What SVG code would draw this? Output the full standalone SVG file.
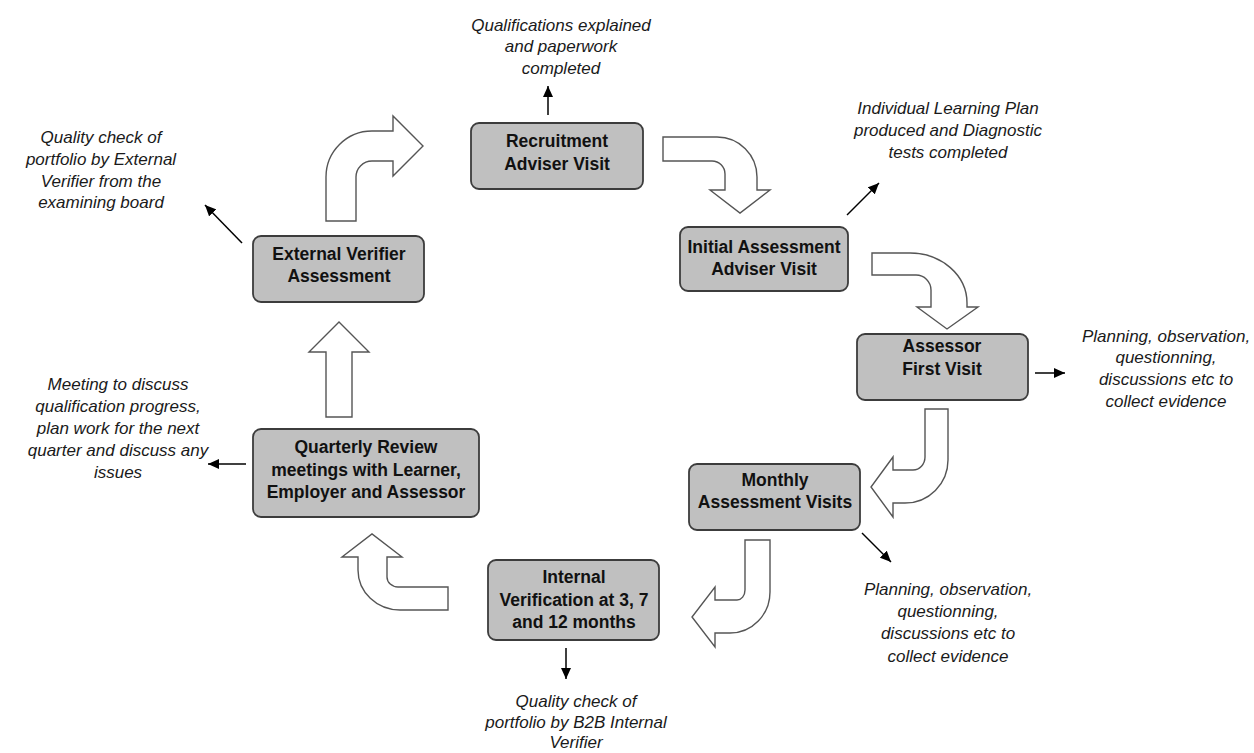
<svg xmlns="http://www.w3.org/2000/svg" width="1254" height="753" viewBox="0 0 1254 753">
<style>
.box{fill:#c0c0c0;stroke:#3c3c3c;stroke-width:1.8}
.bt{font-family:"Liberation Sans",Arial,sans-serif;font-weight:bold;font-size:17.5px;fill:#111;text-anchor:middle}
.it{font-family:"Liberation Sans",Arial,sans-serif;font-style:italic;font-size:17px;fill:#1a1a1a;text-anchor:middle}
.blk{fill:#fff;stroke:#555;stroke-width:1.4;stroke-linejoin:miter}
.ln{stroke:#000;stroke-width:1.5;fill:none;marker-end:url(#ah)}
</style>
<defs>
<marker id="ah" markerWidth="12" markerHeight="10" refX="11" refY="5" orient="auto" markerUnits="userSpaceOnUse"><path d="M0,0 L11,5 L0,10 Z" fill="#000"/></marker>
</defs>
<rect width="1254" height="753" fill="#fff"/>

<g id="connectors">
<path class="blk" d="M326,221 L326,177 A46,46 0 0 1 372,131 L393,131 L393,116 L423,146 L393,176 L393,161 L372,161 A16,16 0 0 0 356,177 L356,221 Z"/>
<path class="blk" d="M663,137 L717,137 A40,40 0 0 1 757,177 L757,190 L770,190 L740,213 L710,190 L725,190 L725,174 A13,13 0 0 0 712,161 L663,161 Z"/>
<path class="blk" d="M872,253 L910,253 A57,50 0 0 1 967,303 L967,307 L978,307 L947,329 L917,307 L931,307 L931,290 A15,15 0 0 0 916,275 L872,275 Z"/>
<path class="blk" d="M925,409 L948,409 L948,460 A43,43 0 0 1 905,503 L893,503 L893,517 L871,487 L893,457 L893,470 L913,470 A12,13 0 0 0 925,457 Z"/>
<path class="blk" d="M745,540 L770,540 L770,592 A40,41 0 0 1 730,633 L715,633 L715,647 L692,617 L715,587 L715,600 L737,600 A8,10 0 0 0 745,590 Z"/>
<path class="blk" d="M448,587 L398,587 A11,10 0 0 1 387,577 L387,557 L402,557 L372,534 L342,557 L358,557 L358,570 A42,40 0 0 0 400,610 L448,610 Z"/>
<path class="blk" d="M326,417 L326,352 L309,352 L339,322 L369,352 L352,352 L352,417 Z"/>
<line class="ln" x1="548" y1="115" x2="548" y2="86"/>
<line class="ln" x1="847" y1="215" x2="879" y2="183"/>
<line class="ln" x1="1035" y1="373" x2="1065" y2="373"/>
<line class="ln" x1="862" y1="533" x2="891" y2="562"/>
<line class="ln" x1="566" y1="648" x2="566" y2="679"/>
<line class="ln" x1="242" y1="243" x2="205" y2="205"/>
<line class="ln" x1="246" y1="464" x2="208" y2="464"/>
</g>

<g id="n-recruitment">
<rect class="box" x="471" y="123" width="172" height="66" rx="8"/>
<text class="bt" x="557" y="147">Recruitment</text>
<text class="bt" x="557" y="170">Adviser Visit</text>
</g>
<g id="n-initial">
<rect class="box" x="680" y="227" width="168" height="64" rx="8"/>
<text class="bt" x="764" y="253">Initial Assessment</text>
<text class="bt" x="764" y="275">Adviser Visit</text>
</g>
<g id="n-assessor">
<rect class="box" x="857" y="334" width="171" height="66" rx="8"/>
<text class="bt" x="942" y="352">Assessor</text>
<text class="bt" x="942" y="375">First Visit</text>
</g>
<g id="n-monthly">
<rect class="box" x="689" y="464" width="171" height="66" rx="8"/>
<text class="bt" x="775" y="486">Monthly</text>
<text class="bt" x="775" y="508">Assessment Visits</text>
</g>
<g id="n-internal">
<rect class="box" x="488" y="560" width="171" height="80" rx="8"/>
<text class="bt" x="574" y="583">Internal</text>
<text class="bt" x="574" y="606">Verification at 3, 7</text>
<text class="bt" x="574" y="628">and 12 months</text>
</g>
<g id="n-quarterly">
<rect class="box" x="253" y="429" width="226" height="88" rx="8"/>
<text class="bt" x="366" y="453">Quarterly Review</text>
<text class="bt" x="366" y="476">meetings with Learner,</text>
<text class="bt" x="366" y="498">Employer and Assessor</text>
</g>
<g id="n-external">
<rect class="box" x="253" y="236" width="171" height="66" rx="8"/>
<text class="bt" x="339" y="260">External Verifier</text>
<text class="bt" x="339" y="282">Assessment</text>
</g>

<g id="notes">
<text class="it" x="561" y="31">Qualifications explained</text>
<text class="it" x="561" y="52">and paperwork</text>
<text class="it" x="561" y="74">completed</text>

<text class="it" x="948" y="114">Individual Learning Plan</text>
<text class="it" x="948" y="136">produced and Diagnostic</text>
<text class="it" x="948" y="158">tests completed</text>

<text class="it" x="1166" y="342">Planning, observation,</text>
<text class="it" x="1166" y="363">questionning,</text>
<text class="it" x="1166" y="385">discussions etc to</text>
<text class="it" x="1166" y="407">collect evidence</text>

<text class="it" x="948" y="595">Planning, observation,</text>
<text class="it" x="948" y="617">questionning,</text>
<text class="it" x="948" y="639">discussions etc to</text>
<text class="it" x="948" y="662">collect evidence</text>

<text class="it" x="576" y="707">Quality check of</text>
<text class="it" x="576" y="728">portfolio by B2B Internal</text>
<text class="it" x="576" y="748">Verifier</text>

<text class="it" x="118" y="390">Meeting to discuss</text>
<text class="it" x="118" y="412">qualification progress,</text>
<text class="it" x="118" y="434">plan work for the next</text>
<text class="it" x="118" y="456">quarter and discuss any</text>
<text class="it" x="118" y="478">issues</text>

<text class="it" x="101" y="143">Quality check of</text>
<text class="it" x="101" y="165">portfolio by External</text>
<text class="it" x="101" y="187">Verifier from the</text>
<text class="it" x="101" y="208">examining board</text>
</g>
</svg>
